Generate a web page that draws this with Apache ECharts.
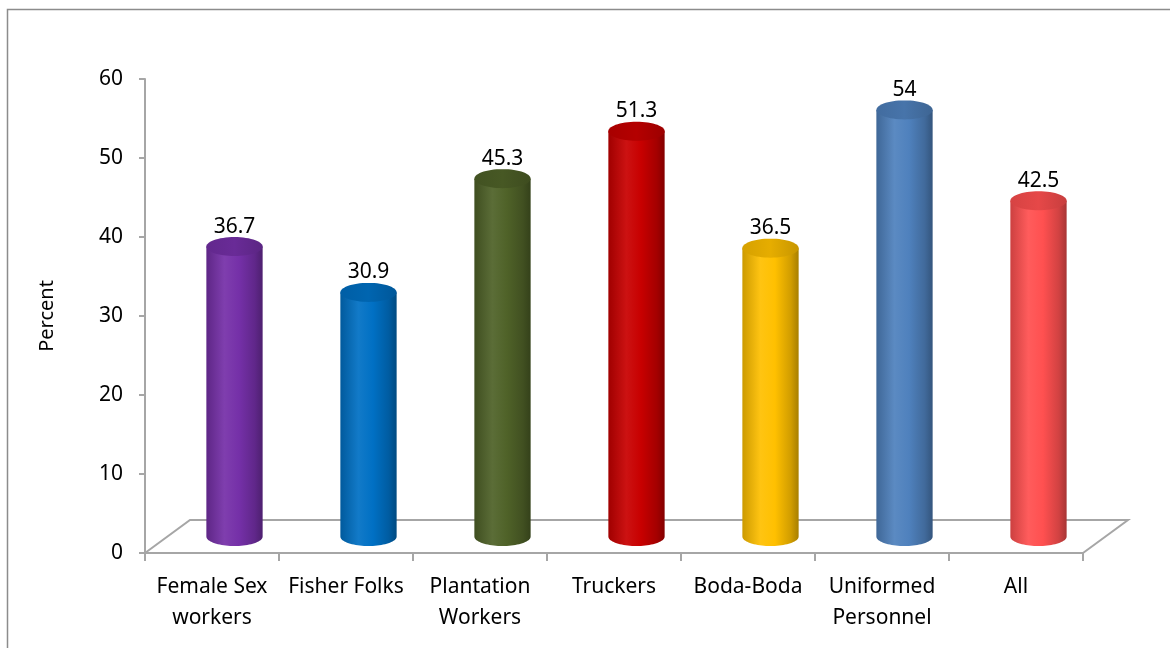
<!DOCTYPE html>
<html>
<head>
<meta charset="utf-8">
<script src="https://cdn.jsdelivr.net/npm/echarts@6/dist/echarts.min.js"></script>
<style>
  html, body { margin: 0; padding: 0; background: #ffffff; }
  #chart { width: 1170px; height: 648px; }
</style>
</head>
<body>
<div id="chart"></div>
<script>
// Categories and values
const categories = ['Female Sex\nworkers', 'Fisher Folks', 'Plantation\nWorkers', 'Truckers', 'Boda-Boda', 'Uniformed\nPersonnel', 'All'];
const values = [36.7, 30.9, 45.3, 51.3, 36.5, 54, 42.5];
const barColors = ['#7530A8', '#0070C4', '#4F6228', '#C80000', '#FFC000', '#4F81BD', '#FF5050'];
const yMin = 0, yMax = 60, yStep = 10;

// 3D floor depth offset (pixels) and cylinder look
const DEPTH_X = 45, DEPTH_Y = 33;
const FONT = 'Noto Sans';

function shade(hex, f) {
  const n = parseInt(hex.slice(1), 16);
  let r = (n >> 16) & 255, g = (n >> 8) & 255, b = n & 255;
  if (f <= 1) { r *= f; g *= f; b *= f; }
  else { const t = f - 1; r += (255 - r) * t; g += (255 - g) * t; b += (255 - b) * t; }
  return 'rgb(' + Math.round(r) + ',' + Math.round(g) + ',' + Math.round(b) + ')';
}

function ellipsePoints(cx, cy, rx, ry, a0, a1, n) {
  const pts = [];
  for (let k = 0; k <= n; k++) {
    const a = a0 + (a1 - a0) * k / n;
    pts.push([cx + rx * Math.cos(a), cy + ry * Math.sin(a)]);
  }
  return pts;
}

const chart = echarts.init(document.getElementById('chart'), null, { renderer: 'canvas' });

// Floor outline of the 3D plot area (front edge is the x axis line)
function renderFloor(params, api) {
  const cs = params.coordSys;
  const x0 = cs.x, x1 = cs.x + cs.width, y0 = cs.y + cs.height;
  return {
    type: 'polyline',
    shape: { points: [[x0, y0], [x0 + DEPTH_X, y0 - DEPTH_Y], [x1 + DEPTH_X, y0 - DEPTH_Y], [x1, y0]] },
    style: { stroke: '#A6A6A6', lineWidth: 2, fill: null }
  };
}

// One shaded cylinder per category, set halfway into the floor depth
function renderCylinder(params, api) {
  const i = api.value(0);
  const v = api.value(1);
  const base = api.coord([i, 0]);
  const top = api.coord([i, v]);
  const w = api.size([1, 0])[0] * 0.42;
  const rx = w / 2, ry = 9.5;
  const cx = base[0] + DEPTH_X / 2;
  const by = base[1] - DEPTH_Y / 2;
  const ty = top[1] - DEPTH_Y / 2;
  const c = barColors[i];
  // lower half of the base ellipse, left to right through the bottom
  const lower = ellipsePoints(cx, by, rx, ry, Math.PI, 0, 40);
  const body = [[cx - rx, ty]].concat(lower).concat([[cx + rx, ty]]);
  const bodyFill = new echarts.graphic.LinearGradient(0, 0, 1, 0, [
    { offset: 0, color: shade(c, 0.8) },
    { offset: 0.32, color: shade(c, 1.07) },
    { offset: 0.58, color: shade(c, 1.0) },
    { offset: 0.86, color: shade(c, 0.82) },
    { offset: 1, color: shade(c, 0.66) }
  ]);
  const topFill = new echarts.graphic.LinearGradient(0, 0, 1, 0, [
    { offset: 0, color: shade(c, 0.84) },
    { offset: 0.5, color: shade(c, 0.9) },
    { offset: 1, color: shade(c, 0.78) }
  ]);
  return {
    type: 'group',
    children: [
      { type: 'polygon', shape: { points: body }, style: { fill: bodyFill } },
      { type: 'polygon', shape: { points: ellipsePoints(cx, ty, rx, ry, 0, Math.PI * 2, 60) }, style: { fill: topFill } },
      {
        type: 'text',
        style: {
          x: cx, y: ty - ry,
          text: String(values[i]),
          fill: '#000', font: '21px "' + FONT + '"',
          align: 'center', verticalAlign: 'bottom'
        }
      }
    ]
  };
}

const option = {
  animation: false,
  backgroundColor: '#ffffff',
  graphic: [
    { type: 'rect', shape: { x: 7.5, y: 9.5, width: 1300, height: 800 }, style: { fill: null, stroke: '#8C8C8C', lineWidth: 1.5 }, z: 0 }
  ],
  grid: { left: 145, right: 87, top: 79, bottom: 95, containLabel: false },
  xAxis: {
    type: 'category',
    data: categories,
    boundaryGap: true,
    axisLine: { show: true, lineStyle: { color: '#A6A6A6', width: 2 } },
    axisTick: { show: true, length: 8, alignWithLabel: false, lineStyle: { color: '#A6A6A6', width: 2 } },
    axisLabel: { color: '#000', fontFamily: FONT, fontSize: 21, lineHeight: 31, margin: 19, interval: 0 }
  },
  yAxis: {
    type: 'value',
    min: yMin, max: yMax, interval: yStep,
    name: 'Percent',
    nameLocation: 'middle',
    nameGap: 88,
    nameRotate: 90,
    nameTextStyle: { color: '#000', fontFamily: FONT, fontSize: 20 },
    axisLine: { show: true, lineStyle: { color: '#A6A6A6', width: 2 } },
    axisTick: { show: true, length: 6, lineStyle: { color: '#A6A6A6', width: 2 } },
    axisLabel: { color: '#000', fontFamily: FONT, fontSize: 21, margin: 22 },
    splitLine: { show: false }
  },
  series: [
    {
      type: 'custom',
      renderItem: renderFloor,
      data: [[0, 0]],
      z: 1,
      silent: true
    },
    {
      type: 'custom',
      renderItem: renderCylinder,
      data: values.map((v, i) => [i, v]),
      encode: { x: 0, y: 1 },
      z: 2
    }
  ]
};

chart.setOption(option);
</script>
</body>
</html>
